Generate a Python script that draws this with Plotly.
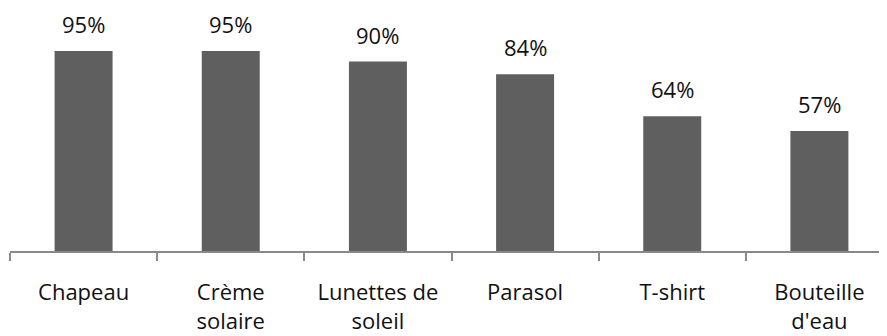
import plotly.graph_objects as go

categories = ["Chapeau", "Crème<br>solaire", "Lunettes de<br>soleil", "Parasol", "T-shirt", "Bouteille<br>d'eau"]
values = [95, 95, 90, 84, 64, 57]
value_labels = ["95%", "95%", "90%", "84%", "64%", "57%"]

FONT = "Open Sans"

fig = go.Figure()
fig.add_trace(go.Bar(
    x=categories, y=values,
    marker=dict(color="#5f5f5f", line=dict(width=0)),
    width=0.394,
    hoverinfo="skip",
))

for c, v, t in zip(categories, values, value_labels):
    fig.add_annotation(x=c, y=v, text=t, showarrow=False, yanchor="bottom",
                       yshift=10, font=dict(family=FONT, size=22, color="#111111"))

fig.update_layout(
    width=887, height=336,
    margin=dict(l=2, r=2, t=11, b=93, autoexpand=False),
    paper_bgcolor="white", plot_bgcolor="white",
    showlegend=False,
    xaxis=dict(
        type="category",
        range=[-0.5, 5.5],
        automargin=False,
        showline=True, linecolor="#898989", linewidth=2,
        ticks="outside", ticklen=8, tickcolor="#898989", tickwidth=1.5,
        tickson="boundaries",
        ticklabelstandoff=21,
        showgrid=False, zeroline=False,
        tickfont=dict(family=FONT, size=22, color="#111111"),
        fixedrange=True,
    ),
    yaxis=dict(
        range=[0, 232 / 2.105],
        automargin=False,
        visible=False, showgrid=False, zeroline=False, fixedrange=True,
    ),
)

fig.write_html("out.html")
